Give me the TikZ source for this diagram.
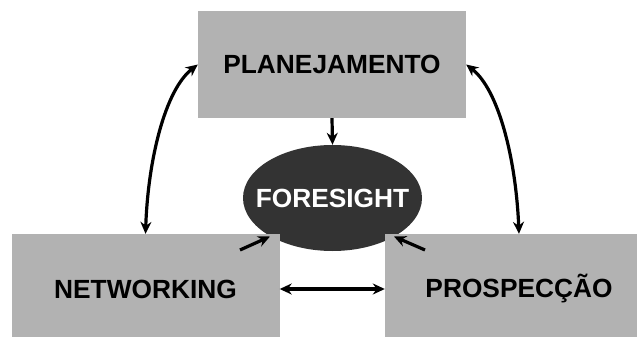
\documentclass[tikz,border=0pt]{standalone}
\usepackage{fontspec}
\setmainfont{Liberation Sans}
\usetikzlibrary{arrows.meta,shapes.geometric}
\definecolor{boxgray}{RGB}{178,178,178}
\definecolor{ovaldark}{RGB}{51,51,51}
\begin{document}
\begin{tikzpicture}[x=1pt,y=-1pt,
  box/.style={rectangle, fill=boxgray, minimum width=268pt, minimum height=110pt, inner sep=0pt,
    font=\fontsize{26.3}{30}\selectfont\bfseries, text=black},
  oval/.style={ellipse, fill=ovaldark, minimum width=179pt, minimum height=106pt, inner sep=0pt},
  ovaltext/.style={font=\fontsize{26.3}{30}\selectfont\bfseries, text=white, inner sep=0pt},
  link/.style={line width=3.2pt, -{Stealth[length=12pt,width=11pt]}},
  dlink/.style={line width=3.2pt, {Stealth[length=12pt,width=11pt]}-{Stealth[length=12pt,width=11pt]}}]
\useasboundingbox (0,0) rectangle (637,337);
\node[oval] (fore) at (332.5,198) {};
\node[ovaltext] (foretext) at (fore.center) {FORESIGHT};
\node[box, minimum height=107pt] (plan) at (332,64.5) {PLANEJAMENTO};
\node[box] (net) at (145.5,289) {NETWORKING};
\node[box] (pros) at (519,289) {PROSPECÇÃO};
\coordinate (ls) at (240,250);
\coordinate (lt) at (270,236.5);
\coordinate (rs) at (425,250);
\coordinate (rt) at (394,236.5);
\draw[link] (plan.south) -- (fore.north);
\draw[dlink] (net.east) -- (pros.west);
\draw[link] (ls) -- (lt);
\draw[link] (rs) -- (rt);
\draw[dlink] (net.north) .. controls (148,160) and (165,90) .. (plan.west);
\draw[dlink] (pros.north) .. controls (516,160) and (499,90) .. (plan.east);
\end{tikzpicture}
\end{document}
